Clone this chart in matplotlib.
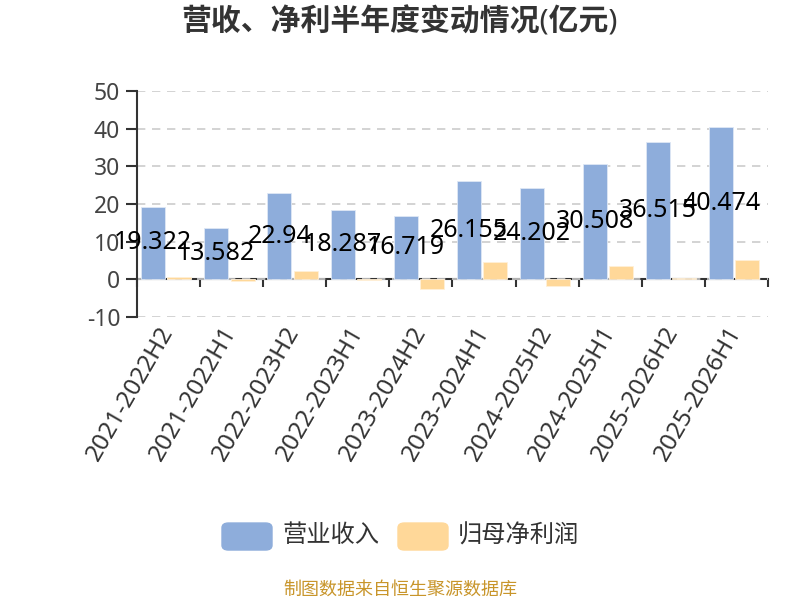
import numpy as np
import matplotlib.pyplot as plt
from matplotlib.patches import FancyBboxPatch

plt.rcParams['font.family'] = ['Noto Sans', 'Noto Sans CJK SC', 'DejaVu Sans']
plt.rcParams['axes.unicode_minus'] = False

# Datos del gráfico
periodos = ['2021-2022H2', '2021-2022H1', '2022-2023H2', '2022-2023H1', '2023-2024H2',
            '2023-2024H1', '2024-2025H2', '2024-2025H1', '2025-2026H2', '2025-2026H1']
ingresos = [19.322, 13.582, 22.94, 18.287, 16.719, 26.155, 24.202, 30.508, 36.515, 40.474]
beneficio = [0.5, -0.4, 2.2, -0.1, -2.7, 4.6, -1.9, 3.4, 0.2, 5.2]

c_ing = '#8eaddb'
c_ben = '#ffd899'
gris = '#333333'

fig = plt.figure(figsize=(8, 6), dpi=100)
ax = fig.add_axes([0.171, 0.472, 0.789, 0.376])

x = np.arange(len(periodos))
w = 0.38
ax.bar(x - 0.24, ingresos, w, color=c_ing, edgecolor='#dfe8f5', linewidth=0.6, zorder=3)
ax.bar(x + 0.175, beneficio, w, color=c_ben, edgecolor='#fff0d8', linewidth=0.6, zorder=3)

# Etiquetas de valores (a media altura de la barra)
for xi, v in zip(x, ingresos):
    ax.text(xi - 0.24, v / 2, f'{v:g}', ha='center', va='center', fontsize=18,
            color='black', zorder=5)

ax.set_xlim(-0.5, len(periodos) - 0.5)
ax.set_ylim(-10, 50)
ax.set_yticks([-10, 0, 10, 20, 30, 40, 50])
ax.grid(axis='y', linestyle=(0, (5, 4)), color='#cccccc', linewidth=1.2, zorder=0)

for s in ['top', 'right', 'bottom']:
    ax.spines[s].set_visible(False)
ax.spines['left'].set_color(gris)
ax.spines['left'].set_linewidth(1.5)
ax.tick_params(axis='y', colors=gris, labelsize=16.5, length=8, width=1.5, pad=4,
               labelcolor='#444444')

ax.set_xticks(x)
ax.set_xticklabels(periodos, rotation=60, ha='right', va='center',
                   rotation_mode='anchor', fontsize=17.5, color='#333333')
ax.tick_params(axis='x', length=0, pad=8)

# Eje x en y=0
sec = ax.secondary_xaxis(0, transform=ax.transData)
sec.set_xticks(np.arange(len(periodos) + 1) - 0.5)
sec.set_xticklabels([])
sec.tick_params(length=6, width=1.5, color=gris)
sec.spines['bottom'].set_color(gris)
sec.spines['bottom'].set_linewidth(1.5)

fig.text(0.5, 0.962, '营收、净利半年度变动情况(亿元)', ha='center', va='center',
         fontsize=21.5, fontweight='bold', color=gris)

# Leyenda
for px, col, lab in [(0.2775, c_ing, '营业收入'), (0.4975, c_ben, '归母净利润')]:
    fig.patches.append(FancyBboxPatch((px, 0.0833), 0.0625, 0.045,
                                      boxstyle='round,pad=0,rounding_size=0.008',
                                      transform=fig.transFigure, color=col))
    fig.text(px + 0.075, 0.106, lab, ha='left', va='center', fontsize=17.5, color=gris)

fig.text(0.5, 0.017, '制图数据来自恒生聚源数据库', ha='center', va='center',
         fontsize=13, color='#c8952a')

fig.savefig('out.png', dpi=100)
